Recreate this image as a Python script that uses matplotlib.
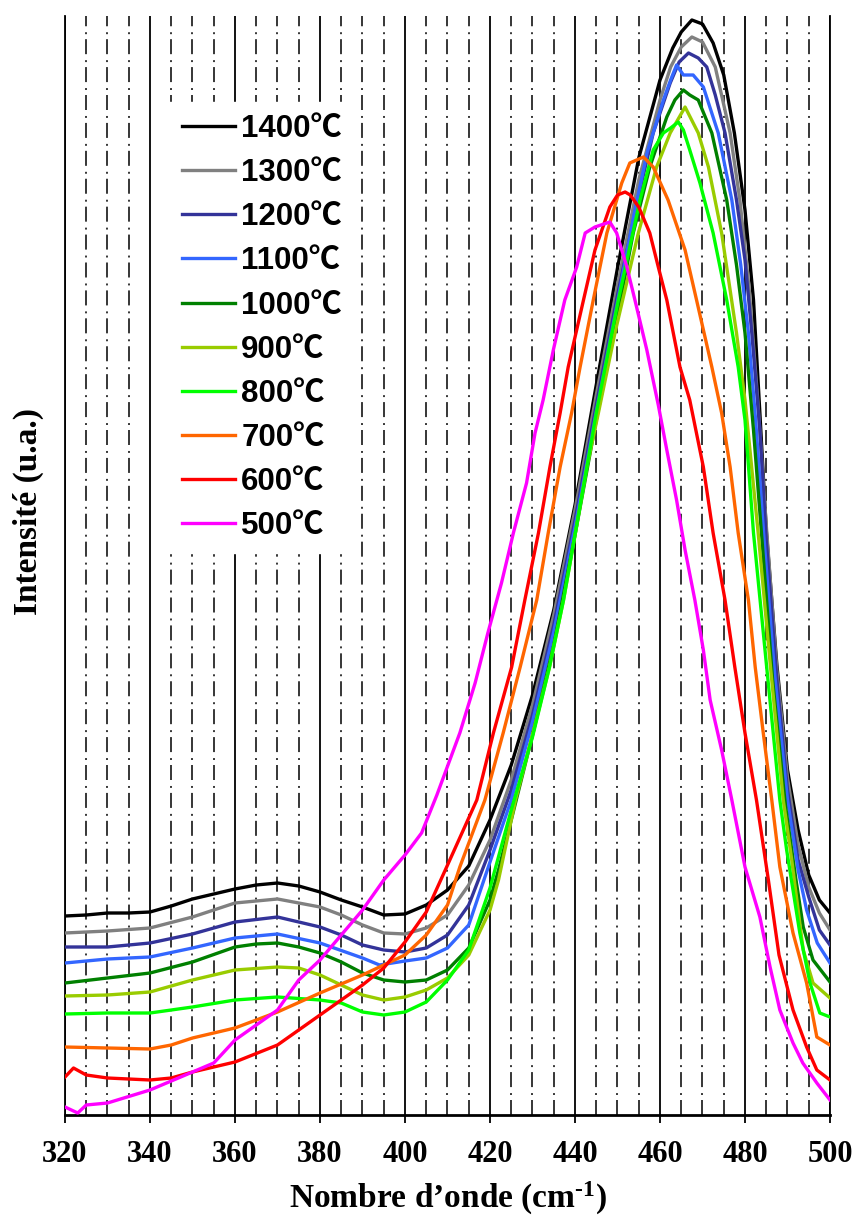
import matplotlib
matplotlib.use("Agg")
import matplotlib.pyplot as plt
from matplotlib.font_manager import FontProperties

plt.rcParams['lines.scale_dashes'] = False
plt.rcParams['mathtext.fontset'] = 'custom'
plt.rcParams['mathtext.rm'] = 'Liberation Serif:bold'
plt.rcParams['mathtext.it'] = 'Liberation Serif:bold'
plt.rcParams['mathtext.bf'] = 'Liberation Serif:bold'

# Raman spectra, intensity in arbitrary units
x_1400 = [320, 325, 330, 335, 340, 345, 350, 355, 360, 365, 370, 375, 380, 385, 390, 395, 400, 405, 410, 415,
          420, 425, 430, 435, 440, 445, 450, 455, 460, 463, 465, 467.5, 470, 472.5, 475, 477.5, 480, 482, 483.5,
          485, 487.5, 490, 492.5, 495, 497.5, 500]
y_1400 = [199, 200, 202, 202, 203, 209, 216, 221, 226, 230, 232, 229, 223, 215, 208, 200, 201, 210, 225, 249,
          295, 350, 420, 505, 610, 730, 847, 957, 1035, 1067, 1083, 1095, 1091, 1072, 1040, 982, 905, 815, 702,
          585, 450, 345, 285, 240, 215, 202]

x_1300 = [320, 330, 340, 350, 360, 370, 380, 385, 390, 395, 400, 405, 410, 415, 420, 425, 430, 435, 440, 445,
          450, 455, 460, 462.5, 465, 467.5, 470, 473, 476.5, 478.8, 481, 483, 485, 487.5, 490, 492.5, 495, 497.5, 500]
y_1300 = [182, 184, 187, 198, 212, 216, 208, 200, 190, 182, 181, 187, 200, 230, 275, 335, 410, 500, 605, 720,
          830, 935, 1015, 1048, 1068, 1078, 1073, 1048, 982, 915, 825, 715, 590, 445, 337, 270, 228, 202, 185]

x_1200 = [320, 330, 340, 350, 360, 370, 380, 385, 390, 395, 400, 405, 410, 415, 420, 425, 430, 435, 440, 445,
          450, 455, 458.4, 462.4, 464.5, 466.7, 469, 471, 473, 475.3, 478, 480, 481.6, 483.5, 485, 487.5, 490,
          492.5, 495, 497.5, 500]
y_1200 = [168, 168, 172, 181, 193, 198, 188, 180, 170, 165, 163, 167, 180, 210, 265, 325, 400, 490, 595, 710,
          820, 920, 982, 1032, 1053, 1062, 1057, 1048, 1020, 982, 915, 855, 782, 685, 575, 435, 325,
          255, 218, 185, 170]

x_1100 = [320, 330, 340, 350, 360, 370, 380, 390, 394, 400, 405, 410, 415, 420, 425, 430, 435, 440, 445, 450,
          454, 457, 460.8, 462.5, 463.9, 465.5, 467.8, 470.2, 473.7, 476.9, 479, 480.8, 482.5, 484.5, 487, 490,
          492.5, 494.5, 497, 500]
y_1100 = [152, 156, 158, 167, 177, 181, 172, 157, 150, 154, 157, 167, 190, 253, 315, 393, 483, 588, 703, 813,
          903, 963, 1015, 1035, 1050, 1040, 1040, 1028, 982, 915, 850, 782, 695, 575, 440, 315,
          245, 205, 172, 152]

x_1000 = [320, 330, 340, 350, 360, 365, 370, 375, 380, 385, 390, 395, 400, 405, 410, 415, 420, 422, 425, 430,
          435, 440, 445, 450, 453.7, 457.6, 461.6, 463.5, 465.5, 467, 469, 472.2, 475.7, 478, 480, 482, 484,
          486.5, 489.5, 492, 493.7, 496, 500]
y_1000 = [132, 137, 142, 153, 168, 171, 172, 168, 162, 153, 142, 135, 133, 135, 145, 167, 215, 245, 295, 380,
          470, 580, 695, 800, 882, 948, 998, 1015, 1025, 1020, 1015, 982, 915, 850, 782, 685, 575,
          435, 310, 235, 188, 155, 133]

x_900 = [320, 330, 340, 350, 360, 370, 375, 380, 385, 390, 395, 400, 405, 410, 415, 420, 422, 426, 430, 434,
         437.3, 440, 442.8, 445.5, 449.4, 454.9, 459.2, 462.4, 465.9, 469, 471.4, 474.5, 478, 480, 483.1, 486,
         489, 491, 493.7, 496, 500]
y_900 = [119, 120, 123, 135, 145, 148, 147, 140, 130, 120, 115, 118, 125, 137, 160, 205, 235, 315, 380, 448,
         515, 580, 648, 702, 782, 882, 948, 982, 1008, 982, 948, 882, 782, 715, 582, 448,
         315, 255, 165, 132, 117]

x_800 = [320, 330, 340, 350, 360, 370, 380, 385, 390, 395, 400, 405, 410, 415, 420, 425, 430, 434, 437.3, 440,
         442.8, 445, 450.2, 455.3, 458.4, 460.8, 462.5, 464.3, 465.5, 467, 469.4, 472.5, 475.7, 478.4, 480, 482,
         485.1, 488.2, 489.8, 492.9, 495.3, 497.6, 500]
y_800 = [101, 102, 102, 108, 115, 118, 115, 112, 103, 100, 103, 113, 135, 165, 227, 305, 378, 448, 515, 580,
         648, 702, 815, 915, 965, 982, 987, 993, 985, 965, 932, 882, 815, 748, 695, 582,
         448, 315, 265, 182, 132, 102, 98]

x_700 = [320, 330, 340, 345, 350, 360, 370, 380, 390, 400, 405, 410, 412.9, 418.8, 423.1, 427.1, 431, 433.7,
         436.5, 439.2, 441.2, 444.3, 447.5, 451, 452.9, 454.5, 456.1, 458.4, 461.9, 465.9, 468.6, 472.2, 474.5,
         476.5, 478.4, 480.8, 482.4, 484.3, 486.3, 488.2, 491.3, 494.5, 496.9, 500]
y_700 = [68, 67, 66, 70, 77, 87, 103, 122, 140, 160, 180, 210, 248, 315, 382, 448, 515, 582,
         648, 702, 748, 815, 882, 932, 952, 955, 958, 948, 915, 865, 815, 748, 702,
         648, 582, 515, 448, 382, 315, 248, 182, 132, 78, 70]

x_600 = [320, 322, 325, 330, 340, 345, 350, 360, 370, 380, 390, 395, 400, 405, 409.8, 416.9, 420.8, 425.1, 428.2,
         431.4, 434.1, 436.5, 438.4, 442, 444.7, 448.2, 450, 451.8, 453, 455, 457.6, 459.6, 461.6, 464.7, 467,
         470.2, 472.5, 475.3, 477.6, 480, 482.7, 485.5, 488, 491.3, 494.5, 496.9, 500]
y_600 = [38, 47, 40, 37, 35, 37, 43, 53, 70, 100, 130, 147, 173, 203, 248, 315, 382, 448, 515,
         582, 648, 702, 748, 815, 865, 908, 920, 923, 920, 908, 882, 848, 815, 748, 715,
         648, 582, 515, 448, 382, 315, 235, 160, 105, 68, 45, 35]

x_500 = [320, 323, 325, 330, 340, 350, 355, 360, 370, 375, 380, 390, 395, 400, 403.9, 407.5, 412.9, 416.5, 419.5,
         422.7, 425.5, 428.6, 430.6, 432.5, 434.9, 437.6, 440.4, 442.4, 444.7, 448.2, 449.8, 452.2, 454.1, 456.9,
         459.6, 461.6, 463.9, 465.9, 468.2, 470.2, 471.8, 474.5, 476.9, 480, 483.5, 485.9, 488.2, 491.3, 493.6,
         496.9, 500]
y_500 = [8, 2, 10, 12, 25, 43, 52, 75, 105, 135, 155, 205, 235, 260, 282, 320, 382, 432, 482,
         532, 582, 632, 682, 715, 765, 815, 848, 882, 888, 893, 882, 848, 815, 765,
         710, 665, 615, 565, 515, 465, 415, 365, 315, 248, 198, 148, 105, 72, 52,
         32, 15]

labels = ["1400℃", "1300℃", "1200℃", "1100℃", "1000℃", "900℃", "800℃", "700℃", "600℃", "500℃"]
colors = ["#000000", "#808080", "#333399", "#3366FF", "#008000", "#99CC00", "#00FF00", "#FF6600", "#FF0000",
          "#FF00FF"]
xs = [x_1400, x_1300, x_1200, x_1100, x_1000, x_900, x_800, x_700, x_600, x_500]
ys = [y_1400, y_1300, y_1200, y_1100, y_1000, y_900, y_800, y_700, y_600, y_500]

fig = plt.figure(figsize=(8.54, 12.17), dpi=100)
ax = fig.add_axes([65 / 854, 102 / 1217, 765 / 854, 1099 / 1217])

for x, y, c, lab in zip(xs, ys, colors, labels):
    ax.plot(x, y, color=c, lw=2.4, label=lab, zorder=3)

ax.set_xlim(320, 500)
ax.set_ylim(0, 1099)
ax.set_xticks(range(320, 501, 20))
ax.set_xticks([v for v in range(325, 500, 5) if v % 20 != 0], minor=True)
ax.set_yticks([])
ax.grid(which='major', axis='x', color='black', lw=1.3, zorder=1)
ax.grid(which='minor', axis='x', color='black', lw=1.1, ls=(0, (10.8, 3.6, 1.4, 4.3)), zorder=1)

for s in ['left', 'right']:
    ax.spines[s].set_linewidth(1.3)
ax.spines['top'].set_visible(False)
ax.spines['bottom'].set_linewidth(2)
ax.tick_params(axis='x', which='major', direction='out', length=6, width=1.3, pad=12)
ax.tick_params(axis='x', which='minor', length=0)
for t in ax.get_xticklabels():
    t.set_fontfamily('Liberation Serif')
    t.set_fontweight('bold')
    t.set_fontsize(22)

ax.set_xlabel(r"Nombre d’onde (cm$^{\text{-}1}$)", fontfamily='Liberation Serif', fontweight='bold',
              fontsize=24)
ax.xaxis.set_label_coords(0.5, -0.076)
ax.xaxis.label.set_va('center')
ax.set_ylabel("Intensité (u.a.)", fontfamily='Liberation Serif', fontweight='bold', fontsize=24)
ax.yaxis.set_label_coords(-0.048, 0.549)
ax.yaxis.label.set_va('center')

leg_font = FontProperties(family=['Liberation Sans', 'Noto Sans CJK SC'], weight='bold', size=22.5)
leg = ax.legend(loc='upper left', bbox_to_anchor=(0.1366, 0.922), borderaxespad=0, prop=leg_font,
                frameon=True, fancybox=False, framealpha=1, edgecolor='white', facecolor='white',
                borderpad=0.4, labelspacing=0.45, handlelength=1.7, handletextpad=0.2)
leg.set_zorder(5)

fig.savefig("out.png", dpi=100)
